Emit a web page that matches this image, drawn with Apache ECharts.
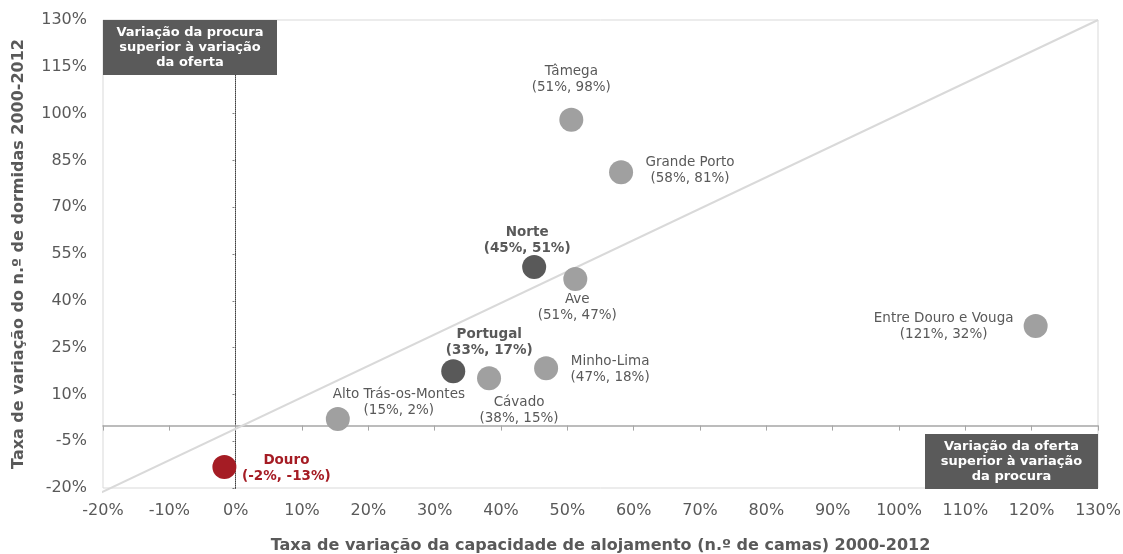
<!DOCTYPE html>
<html>
<head>
<meta charset="utf-8">
<script src="https://cdn.jsdelivr.net/npm/echarts@6/dist/echarts.min.js"></script>
<style>
  html, body { margin: 0; padding: 0; background: #fff; }
  #main { width: 1123px; height: 554px; }
</style>
</head>
<body>
<div id="main"></div>
<script>
// sub-regions (NUTS III)
var regionNames = ['Tâmega', 'Grande Porto', 'Ave', 'Entre Douro e Vouga', 'Minho-Lima', 'Cávado', 'Alto Trás-os-Montes'];
var regionCamas = [50.6, 58.1, 51.2, 120.6, 46.8, 38.2, 15.4];
var regionDormidas = [98.0, 81.2, 47.0, 31.9, 18.4, 15.2, 2.1];

// aggregates
var totalNames = ['Norte', 'Portugal'];
var totalCamas = [45.0, 32.8];
var totalDormidas = [50.8, 17.4];

// highlighted region
var douroName = ['Douro'];
var douroCamas = [-1.7];
var douroDormidas = [-13.3];

// reference line (oferta = procura)
var diagonalX = [-22.4, 130];
var diagonalY = [-23.6, 130];

var yTicks = [-20, -5, 10, 25, 40, 55, 70, 85, 100, 115, 130];

// label placement, px from point centre
var labelOffsets = {
    'Tâmega': [0, -40],
    'Grande Porto': [69, -2],
    'Ave': [2, 29],
    'Entre Douro e Vouga': [-92, 0],
    'Minho-Lima': [64, 1],
    'Cávado': [30, 32],
    'Alto Trás-os-Montes': [61, -17],
    'Norte': [-7, -27],
    'Portugal': [36, -29],
    'Douro': [62, 1]
};

var FONT = 'DejaVu Sans';
var myChart = echarts.init(document.getElementById('main'));

function points(names, xs, ys) {
    return names.map(function (n, i) {
        return {
            name: n,
            value: [xs[i], ys[i]],
            label: { offset: labelOffsets[n] }
        };
    });
}

function pct(p) {
    return '(' + Math.round(p.value[0]) + '%, ' + Math.round(p.value[1]) + '%)';
}

var option = {
    animation: false,
    grid: {
        left: 103, right: 25, top: 20, bottom: 66,
        outerBoundsMode: 'none',
        show: true, borderColor: '#d9d9d9', borderWidth: 1
    },
    xAxis: [{
        type: 'value', min: -20, max: 130, interval: 10,
        position: 'bottom',
        axisLine: { show: false, onZero: false },
        axisTick: { show: false },
        splitLine: { show: false },
        axisLabel: {
            formatter: '{value}%', color: '#595959',
            fontFamily: FONT, fontSize: 16, margin: 15
        },
        name: 'Taxa de variação da capacidade de alojamento (n.º de camas) 2000-2012',
        nameLocation: 'middle', nameGap: 50,
        nameTextStyle: { color: '#595959', fontFamily: FONT, fontSize: 16, fontWeight: 'bold' }
    }, {
        type: 'value', min: -20, max: 130, interval: 10,
        position: 'bottom',
        axisLine: { show: true, onZero: true, onZeroAxisIndex: 0, lineStyle: { color: '#a6a6a6', width: 1.5 } },
        axisTick: { show: true, length: 5, lineStyle: { color: '#a6a6a6' } },
        axisLabel: { show: false },
        splitLine: { show: false }
    }],
    yAxis: [{
        type: 'value', min: -20, max: 130,
        position: 'left',
        axisLine: { show: false, onZero: false },
        axisTick: { show: false },
        splitLine: { show: false },
        axisLabel: {
            customValues: yTicks,
            formatter: '{value}%', color: '#595959',
            fontFamily: FONT, fontSize: 16, margin: 16
        },
        name: 'Taxa de variação do n.º de dormidas 2000-2012',
        nameLocation: 'middle', nameGap: 76,
        nameTextStyle: { color: '#595959', fontFamily: FONT, fontSize: 16, fontWeight: 'bold' }
    }, {
        type: 'value', min: -20, max: 130,
        position: 'left',
        axisLine: { show: true, onZero: true, onZeroAxisIndex: 0, lineStyle: { color: '#404040', width: 1, type: 'dotted' } },
        axisTick: { show: true, customValues: yTicks, length: 4, lineStyle: { color: '#404040', type: 'dotted' } },
        axisLabel: { show: false },
        splitLine: { show: false }
    }],
    graphic: [{
        type: 'group', left: 103, top: 20, z: 100,
        children: [{
            type: 'rect', z: 100, shape: { x: 0, y: 0, width: 174, height: 55 },
            style: { fill: '#5a5a5a' }
        }, {
            type: 'text', z: 101, x: 87, y: 27.5,
            style: {
                text: 'Variação da procura\nsuperior à variação\nda oferta',
                fill: '#fff', font: 'bold 13px "DejaVu Sans"', lineHeight: 15,
                align: 'center', verticalAlign: 'middle'
            }
        }]
    }, {
        type: 'group', left: 925, top: 434, z: 100,
        children: [{
            type: 'rect', z: 100, shape: { x: 0, y: 0, width: 173, height: 55 },
            style: { fill: '#5a5a5a' }
        }, {
            type: 'text', z: 101, x: 86.5, y: 27.5,
            style: {
                text: 'Variação da oferta\nsuperior à variação\nda procura',
                fill: '#fff', font: 'bold 13px "DejaVu Sans"', lineHeight: 15,
                align: 'center', verticalAlign: 'middle'
            }
        }]
    }],
    series: [{
        type: 'line',
        silent: true,
        clip: false,
        symbol: 'none',
        z: 1,
        lineStyle: { color: '#d9d9d9', width: 2 },
        data: diagonalX.map(function (x, i) { return [x, diagonalY[i]]; })
    }, {
        name: 'Regiões',
        type: 'scatter',
        symbolSize: 24,
        z: 3,
        itemStyle: { color: '#a0a0a0', opacity: 1 },
        label: {
            show: true, position: 'inside', align: 'center', verticalAlign: 'middle',
            color: '#595959', fontFamily: FONT, fontSize: 13.5, lineHeight: 16,
            formatter: function (p) { return p.name + '\n' + pct(p); }
        },
        data: points(regionNames, regionCamas, regionDormidas)
    }, {
        name: 'Totais',
        type: 'scatter',
        symbolSize: 24,
        z: 3,
        itemStyle: { color: '#595959', opacity: 1 },
        label: {
            show: true, position: 'inside', align: 'center', verticalAlign: 'middle',
            color: '#595959', fontFamily: FONT, fontSize: 13.5, fontWeight: 'bold', lineHeight: 16,
            formatter: function (p) { return p.name + '\n' + pct(p); }
        },
        data: points(totalNames, totalCamas, totalDormidas)
    }, {
        name: 'Douro',
        type: 'scatter',
        symbolSize: 24,
        z: 3,
        itemStyle: { color: '#a51c24', opacity: 1 },
        label: {
            show: true, position: 'inside', align: 'center', verticalAlign: 'middle',
            color: '#a51c24', fontFamily: FONT, fontSize: 13.5, fontWeight: 'bold', lineHeight: 16,
            formatter: function (p) { return p.name + '\n' + pct(p); }
        },
        data: points(douroName, douroCamas, douroDormidas)
    }]
};

myChart.setOption(option);
</script>
</body>
</html>
